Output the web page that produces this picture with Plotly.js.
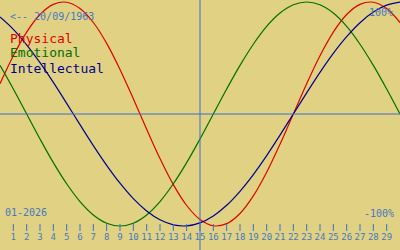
<!DOCTYPE html>
<html>
<head>
<meta charset="utf-8">
<script src="https://cdn.plot.ly/plotly-3.0.1.min.js"></script>
<style>html,body{margin:0;padding:0;background:#e0d282;}#chart{width:400px;height:250px;}</style>
</head>
<body>
<div id="chart"></div>
<script>
// Days of the month shown on the x axis (0 and 30 are the chart edges)
const days = [0,1,2,3,4,5,6,7,8,9,10,11,12,13,14,15,16,17,18,19,20,21,22,23,24,25,26,27,28,29,30];
const tickDays = [1,2,3,4,5,6,7,8,9,10,11,12,13,14,15,16,17,18,19,20,21,22,23,24,25,26,27,28,29];
const tickLabels = tickDays.map(String);

// Cycle values (fraction of 100%)
const physical = [0.270,0.520,0.731,0.888,0.979,0.998,0.942,0.817,0.631,0.398,0.136,-0.136,-0.398,-0.631,-0.817,-0.942,-0.998,-0.979,-0.888,-0.731,-0.520,-0.270,0.000,0.270,0.520,0.731,0.888,0.979,0.998,0.942,0.817];
const emotional = [0.434,0.223,0.000,-0.223,-0.434,-0.623,-0.782,-0.901,-0.975,-1.000,-0.975,-0.901,-0.782,-0.623,-0.434,-0.223,0.000,0.223,0.434,0.623,0.782,0.901,0.975,1.000,0.975,0.901,0.782,0.623,0.434,0.223,0.000];
const intellectual = [0.866,0.756,0.618,0.458,0.282,0.095,-0.095,-0.282,-0.458,-0.618,-0.756,-0.866,-0.945,-0.990,-0.999,-0.972,-0.910,-0.815,-0.690,-0.541,-0.372,-0.189,0.000,0.189,0.372,0.541,0.690,0.815,0.910,0.972,0.999];

const seriesNames = ["Physical","Emotional","Intellectual"];
const birthText = "<-- 20/09/1963";
const monthText = "01-2026";
const topText = "100%";
const bottomText = "-100%";
const todayDay = 15;

const BG = "#e0d282";
const AXIS = "#3a6ecc";
const TXT = "#4677c4";
const RED = "#e00000";
const GREEN = "#007000";
const BLUE = "#000090";
const MONO = "DejaVu Sans Mono, monospace";

const yTop = 1.01786, yBot = -1.21429;
const tickY = -1.0134, labelY = -1.1071;

const traces = [
  {x: days, y: physical, mode: "lines", line: {color: RED, width: 1.2, shape: "spline"}, name: seriesNames[0]},
  {x: days, y: emotional, mode: "lines", line: {color: GREEN, width: 1.2, shape: "spline"}, name: seriesNames[1]},
  {x: days, y: intellectual, mode: "lines", line: {color: BLUE, width: 1.2, shape: "spline"}, name: seriesNames[2]},
  {x: tickDays, y: tickDays.map(() => tickY), mode: "markers",
   marker: {symbol: "line-ns-open", size: 5, line: {color: AXIS, width: 1}, color: AXIS}, hoverinfo: "skip"},
  {x: tickDays, y: tickDays.map(() => labelY), mode: "text", text: tickLabels,
   textposition: "middle center", textfont: {family: MONO, size: 9, color: TXT}, hoverinfo: "skip"}
];

function ann(text, x, y, xanchor, size, color) {
  return {text: text, xref: "paper", yref: "paper", x: x / 400, y: 1 - y / 250,
    xanchor: xanchor, yanchor: "middle", showarrow: false, borderpad: 0,
    font: {family: MONO, size: size, color: color}};
}

const layout = {
  width: 400, height: 250,
  margin: {l: 0, r: 0, t: 0, b: 0, pad: 0},
  paper_bgcolor: BG, plot_bgcolor: BG,
  showlegend: false,
  xaxis: {range: [0, 30], visible: false, fixedrange: true},
  yaxis: {range: [yBot, yTop], visible: false, fixedrange: true},
  shapes: [
    {type: "line", xref: "x", yref: "paper", x0: todayDay, x1: todayDay, y0: 0, y1: 1, line: {color: AXIS, width: 1}},
    {type: "line", xref: "paper", yref: "y", x0: 0, x1: 1, y0: 0, y1: 0, line: {color: AXIS, width: 1}}
  ],
  annotations: [
    ann(birthText, 9, 16, "left", 10, TXT),
    ann(seriesNames[0], 9, 38, "left", 13, RED),
    ann(seriesNames[1], 9, 53, "left", 13, GREEN),
    ann(seriesNames[2], 9, 68, "left", 13, BLUE),
    ann(topText, 394, 12, "right", 10, TXT),
    ann(bottomText, 395, 213, "right", 10, TXT),
    ann(monthText, 4, 212, "left", 10, TXT)
  ]
};

Plotly.newPlot("chart", traces, layout, {staticPlot: true, displayModeBar: false});
</script>
</body>
</html>
